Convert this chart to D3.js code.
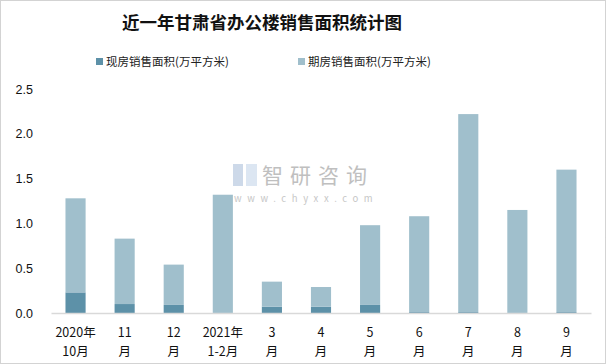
<!DOCTYPE html>
<html><head><meta charset="utf-8">
<script src="https://cdn.jsdelivr.net/npm/d3@7"></script>
<style>body{margin:0;background:#fff}svg{display:block}</style>
</head><body>
<script>
const categories = ["2020年10月","11月","12月","2021年1-2月","3月","4月","5月","6月","7月","8月","9月"];
const labelLine1 = ["2020年","11","12","2021年","3","4","5","6","7","8","9"];
const labelLine2 = ["10月","月","月","1-2月","月","月","月","月","月","月","月"];
const xianfang = [0.23,0.10,0.09,0,0.07,0.07,0.09,0.01,0.01,0,0.01];
const qifang = [1.05,0.73,0.45,1.32,0.28,0.22,0.89,1.07,2.21,1.15,1.59];
const yTicks = [0,0.5,1.0,1.5,2.0,2.5];
const seriesNames = ["现房销售面积(万平方米)","期房销售面积(万平方米)"];
const colors = ["#5d91a8","#a0bfcc"];

const W=606,H=364;
const svg=d3.select("body").append("svg").attr("width",W).attr("height",H);
svg.append("rect").attr("x",0.5).attr("y",0.5).attr("width",W-1).attr("height",H-1)
  .attr("fill","#fff").attr("stroke","#a6a6a6").attr("stroke-dasharray","1,1");

const font="'Noto Sans CJK SC','Microsoft YaHei',sans-serif";
svg.append("text").attr("x",262).attr("y",29).attr("text-anchor","middle")
  .attr("font-family",font).attr("font-weight","bold").attr("font-size",17.5).attr("fill","#111")
  .text("近一年甘肃省办公楼销售面积统计图");

// legend
const legX=[96,298];
seriesNames.forEach((n,i)=>{
  svg.append("rect").attr("x",legX[i]).attr("y",58).attr("width",7).attr("height",7).attr("fill",colors[i]);
  svg.append("text").attr("x",legX[i]+10).attr("y",66).attr("font-family",font).attr("font-size",11.5)
    .attr("fill","#222").text(n);
});

const x=d3.scaleBand().domain(categories).range([51,591]).paddingInner(0.59).paddingOuter(0.295);
const y=d3.scaleLinear().domain([0,2.5]).range([313,89]);

// watermark
const wm=svg.append("g").attr("opacity",0.85);
wm.append("rect").attr("x",233).attr("y",164).attr("width",10).attr("height",22).attr("fill","#c5d3e6");
wm.append("rect").attr("x",246).attr("y",164).attr("width",11).attr("height",22).attr("fill","#d6e2f0");
wm.append("text").attr("x",262).attr("y",183).attr("font-family",font).attr("font-size",21)
  .attr("fill","#b5b5b5").attr("letter-spacing",7).text("智研咨询");
wm.append("text").attr("x",234).attr("y",202).attr("font-family",font).attr("font-size",9.5)
  .attr("fill","#bdbdbd").attr("letter-spacing",5.6).text("www.chyxx.com");

// y axis labels
const yAxis=d3.axisLeft(y).tickValues(yTicks).tickFormat(d3.format(".1f")).tickSize(0).tickPadding(0);
const ya=svg.append("g").attr("transform","translate(33,0)").call(yAxis);
ya.select(".domain").remove();
ya.selectAll("text").attr("font-family","'Liberation Sans',Arial,sans-serif").attr("font-size",12.5).attr("fill","#111");

// stacked bars
const data=categories.map((c,i)=>({c,a:xianfang[i],b:qifang[i]}));
const stack=d3.stack().keys(["a","b"])(data);
stack.forEach((layer,k)=>{
  svg.append("g").selectAll("rect").data(layer).join("rect")
    .attr("x",d=>x(d.data.c)).attr("width",x.bandwidth())
    .attr("y",d=>y(d[1])).attr("height",d=>y(d[0])-y(d[1]))
    .attr("fill",colors[k]);
});

// x axis
const xAxis=d3.axisBottom(x).tickSize(0).tickFormat("");
const xa=svg.append("g").attr("transform","translate(0,313)").call(xAxis);
xa.select(".domain").attr("stroke","#d9d9d9").attr("stroke-width",1.5);
categories.forEach((c,i)=>{
  const cx=x(c)+x.bandwidth()/2;
  const t=svg.append("text").attr("text-anchor","middle").attr("font-family",font).attr("font-size",12.5).attr("fill","#111");
  t.append("tspan").attr("x",cx).attr("y",337).text(labelLine1[i]);
  t.append("tspan").attr("x",cx).attr("y",356).text(labelLine2[i]);
});
</script>
</body></html>
